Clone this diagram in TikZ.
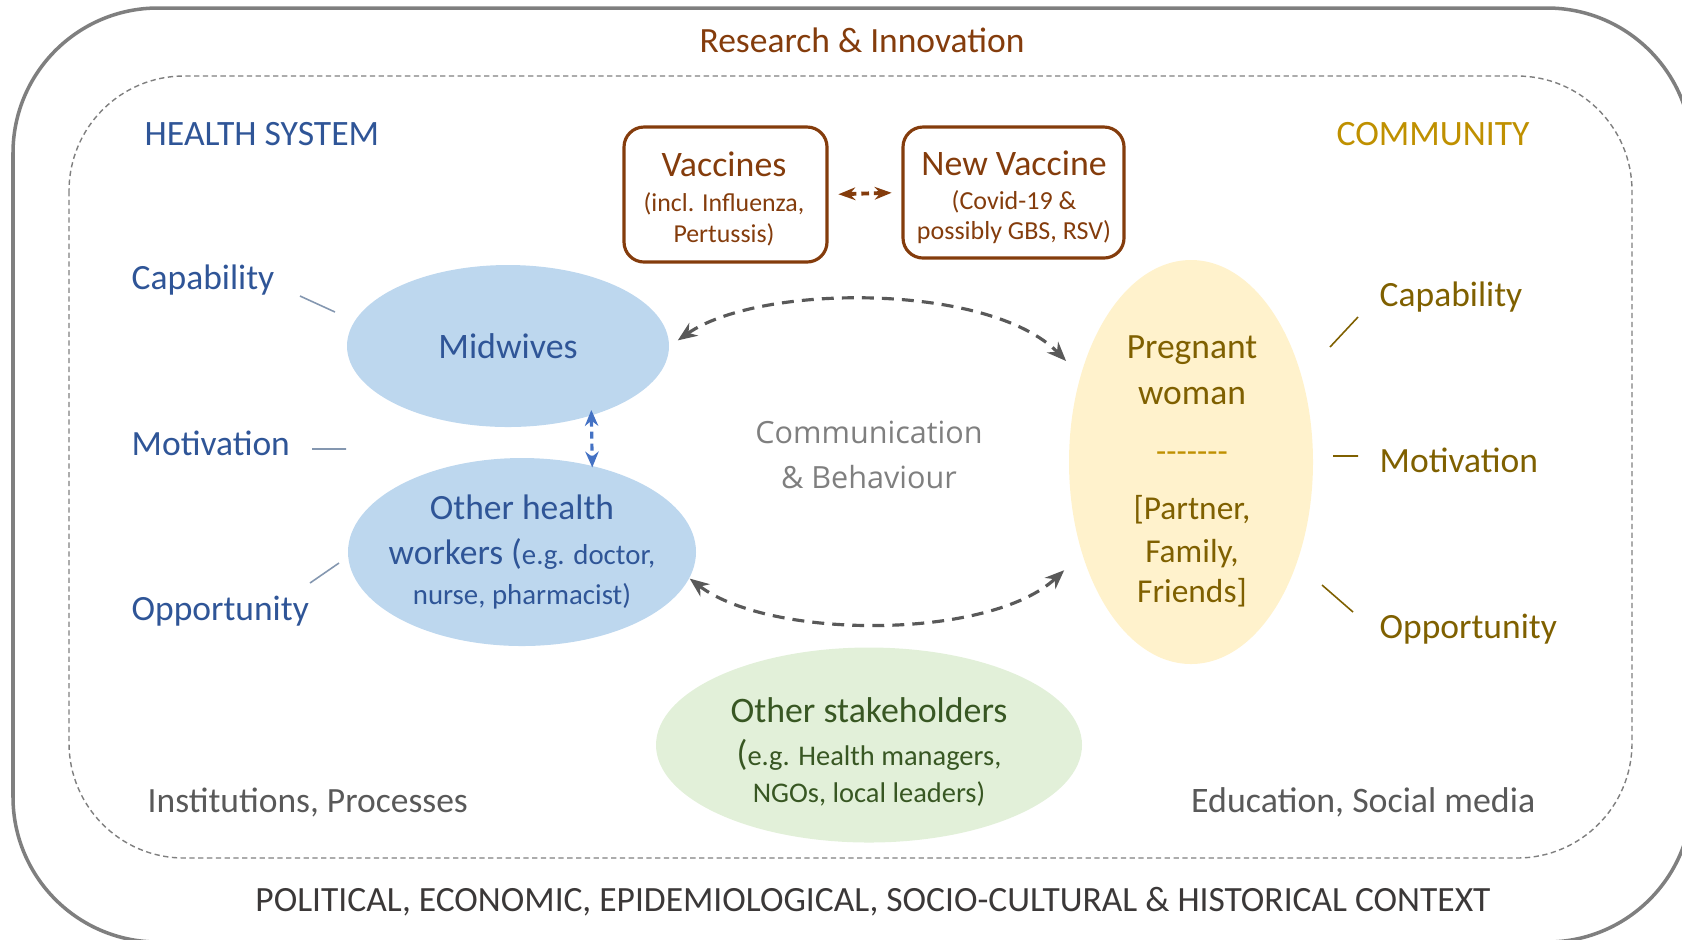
\documentclass[tikz,border=0pt]{standalone}
\usepackage{fontspec}
\setmainfont{Carlito}
\newfontfamily\commfont{Open Sans}
\usetikzlibrary{arrows.meta,shapes.geometric}
\definecolor{hsblue}{HTML}{2F5597}
\definecolor{midfill}{HTML}{BDD7EE}
\definecolor{linkblue}{HTML}{4472C4}
\definecolor{hsline}{HTML}{8497B0}
\definecolor{resbrown}{HTML}{843C0C}
\definecolor{comgold}{HTML}{BF9000}
\definecolor{pregfill}{HTML}{FFF2CC}
\definecolor{pregtext}{HTML}{7F6000}
\definecolor{stakefill}{HTML}{E2F0D9}
\definecolor{staketext}{HTML}{385723}
\definecolor{framegray}{HTML}{7F7F7F}
\definecolor{linkgray}{HTML}{595959}
\definecolor{txtgray}{HTML}{595959}
\definecolor{commgray}{HTML}{7F7F7F}
\definecolor{ctxgray}{HTML}{3B3838}
\newcommand{\fsz}[1]{\fontsize{#1}{#1}\selectfont}

\begin{document}
\begin{tikzpicture}[x=0.1mm, y=-0.1mm,
  actor/.style={ellipse, inner sep=0pt},
  vbox/.style={draw=resbrown, line width=0.9pt, rounded corners=2mm, inner sep=0pt},
  inlabel/.style={align=center, inner sep=0pt},
  hslabel/.style={anchor=base west, inner sep=0pt, text=hsblue, font=\fsz{10.1}},
  cmlabel/.style={anchor=base west, inner sep=0pt, text=pregtext, font=\fsz{10.1}},
  comlink/.style={draw=linkgray, line width=0.9pt, dash pattern=on 3.4pt off 2.3pt, {Stealth[length=5.5pt,width=4.4pt]}-{Stealth[length=5.5pt,width=4.4pt]}},
  bluelink/.style={draw=linkblue, line width=0.9pt, dash pattern=on 2pt off 1.4pt, {Stealth[length=4.5pt,width=3.8pt]}-{Stealth[length=4.5pt,width=3.8pt]}},
  brownlink/.style={draw=resbrown, line width=1.1pt, dash pattern=on 2.2pt off 1.4pt, {Stealth[length=4.8pt,width=3.6pt]}-{Stealth[length=4.8pt,width=3.6pt]}}]

\useasboundingbox (0,0) rectangle (1682,939);
\clip (0,0) rectangle (1682,939);
\draw[framegray, line width=1pt, rounded corners=14.5mm] (13,8) rectangle (1692,942);
\draw[framegray, line width=0.4pt, dash pattern=on 1.5pt off 1pt, rounded corners=11.5mm] (69,76) rectangle (1632,858);

\node[text=resbrown, font=\fsz{10.1}] (research) at (862,40) {Research \& Innovation};
\node[text=hsblue, font=\fsz{10.15}] (hs) at (262,134) {HEALTH SYSTEM};
\node[text=comgold, font=\fsz{10.15}] (community) at (1433,134) {COMMUNITY};

\node[vbox, minimum width=20.3mm, minimum height=13.5mm] (vacc) at (725.5,194.5) {};
\node[inlabel, text=resbrown, font=\fontsize{10.2}{8.8}\selectfont] (vacctxt) at (724,199)
  {Vaccines\\[1.2pt] {\fsz{7.35}(incl. Influenza,}\\ {\fsz{7.35}Pertussis)}};
\node[vbox, minimum width=22.1mm, minimum height=13.1mm] (newvac) at (1013.5,192.5) {};
\node[inlabel, text=resbrown, font=\fontsize{10.2}{8.6}\selectfont] (newvactxt) at (1014,197)
  {New Vaccine\\[1pt] {\fsz{7.4}(Covid-19 \&}\\ {\fsz{7.4}possibly GBS, RSV)}};

\node[actor, fill=midfill, text=hsblue, minimum width=32.2mm, minimum height=16.2mm, font=\fsz{10.2}] (mid) at (508,346) {Midwives};
\node[actor, fill=midfill, minimum width=34.8mm, minimum height=18.8mm] (oth) at (522,552) {};
\node[inlabel, text=hsblue, font=\fontsize{10.1}{11.3}\selectfont] (othtxt) at (522,552)
  {Other health\\[1.5pt] workers ({\fsz{8.2}e.g. doctor,}\\ {\fsz{8.2}nurse, pharmacist)}};
\node[actor, fill=pregfill, minimum width=24.4mm, minimum height=40.4mm] (preg) at (1191,462) {};
\node[inlabel, text=pregtext, font=\fontsize{10.1}{11.3}\selectfont] (pregtxt) at (1192,471)
  {Pregnant\\[1.8pt] woman\\[5.2pt] {\fsz{9.5}\color{comgold}-{}-{}-{}-{}-{}-{}-}\\[5pt] {\fsz{9.5}[Partner,}\\[0.9pt] {\fsz{9.5}Family,}\\ {\fsz{9.5}Friends]}};
\node[actor, fill=stakefill, minimum width=42.6mm, minimum height=19.5mm] (stake) at (869,745) {};
\node[inlabel, text=staketext, font=\fontsize{10.2}{10.5}\selectfont] (staketxt) at (869,752)
  {Other stakeholders\\[1.5pt] ({\fsz{8.1}e.g. Health managers,}\\ {\fsz{8.1}NGOs, local leaders)}};

\node[inlabel, text=commgray, font=\commfont\fontsize{8.7}{12.8}\selectfont] (comm) at (869,455) {Communication\\ \& Behaviour};

\node[hslabel] (capL) at (131,289) {Capability};
\node[hslabel] (motL) at (131,455) {Motivation};
\node[hslabel] (oppL) at (131,620) {Opportunity};
\node[cmlabel] (capR) at (1379,306) {Capability};
\node[cmlabel] (motR) at (1379,472) {Motivation};
\node[cmlabel] (oppR) at (1379,638) {Opportunity};

\coordinate (capLa) at (300,296); \coordinate (capLb) at (335,312);
\coordinate (motLa) at (312,449); \coordinate (motLb) at (346,449);
\coordinate (oppLa) at (310,583); \coordinate (oppLb) at (339,563);
\coordinate (capRa) at (1330,347); \coordinate (capRb) at (1358,317);
\coordinate (motRa) at (1333,456); \coordinate (motRb) at (1358,456);
\coordinate (oppRa) at (1322,585); \coordinate (oppRb) at (1353,612);
\draw[hsline, line width=0.45pt] (capLa) -- (capLb) (motLa) -- (motLb) (oppLa) -- (oppLb);
\draw[pregtext, line width=0.45pt] (capRa) -- (capRb) (motRa) -- (motRb) (oppRa) -- (oppRb);

\node[anchor=west, inner sep=0pt, text=txtgray, font=\fsz{10.1}] (inst) at (147,802) {Institutions, Processes};
\node[anchor=east, inner sep=0pt, text=txtgray, font=\fsz{10.2}] (edu) at (1536,802) {Education, Social media};
\node[text=ctxgray, font=\fsz{10.1}] (context) at (873,902) {POLITICAL, ECONOMIC, EPIDEMIOLOGICAL, SOCIO-CULTURAL \& HISTORICAL CONTEXT};

\draw[brownlink, shorten <=2.8pt, shorten >=2.8pt] (vacc.east) -- (newvac.west);
\draw[bluelink, shorten <=-1.7pt, shorten >=-0.6pt] (mid.-40.5) -- (oth.51.7);
\draw[comlink, shorten <=2.8pt, shorten >=5.7pt] (mid.east) .. controls (760,283) and (990,283) .. (preg.142);
\draw[comlink, shorten >=6.8pt] (oth.-9) .. controls (770,640) and (990,640) .. (preg.-140);
\end{tikzpicture}
\end{document}
